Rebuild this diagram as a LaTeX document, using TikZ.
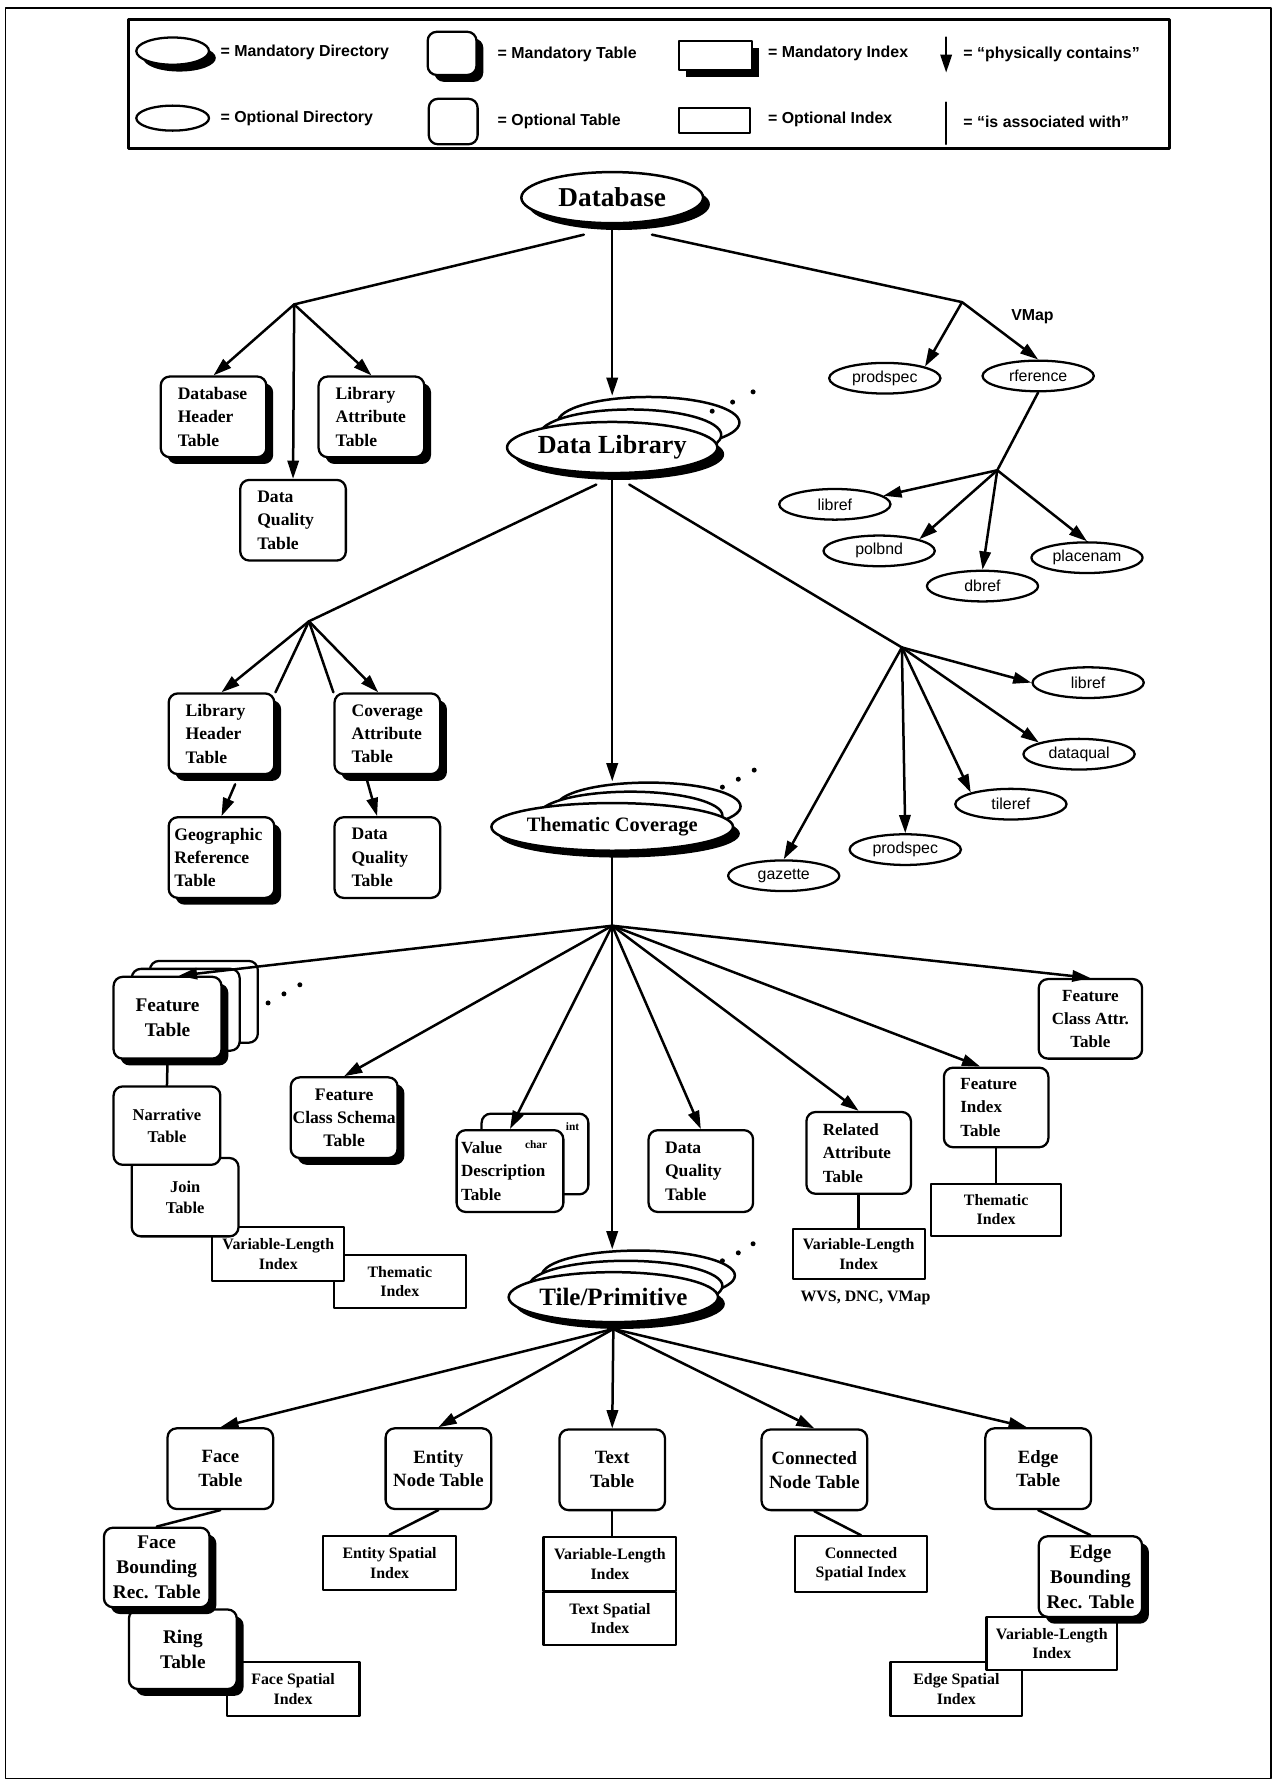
\documentclass[tikz,border=0pt]{standalone}
\usepackage{fontspec}
\setmainfont{Liberation Serif}
\newfontfamily\lsans{Liberation Sans}
\usetikzlibrary{shapes.geometric,shadows,arrows.meta}

\begin{document}
\begin{tikzpicture}[x=1pt,y=-1pt,line join=round,line cap=round,
    >={Triangle[length=16pt,width=10pt]},
    con/.style={line width=2.2pt},
    shad/.style={drop shadow={shadow xshift=6pt,shadow yshift=-6pt,fill=black,opacity=1}},
    tbl/.style={draw,fill=white,rounded corners=8pt,line width=2pt,inner sep=0pt,
      minimum width=93pt,minimum height=71pt,align=center,
      font=\fontsize{15.5}{20.5}\selectfont\bfseries},
    mtbl/.style={tbl,shad},
    lt/.style={align=left,text width=#1},lt/.default=63pt,
    idx/.style={draw,fill=white,line width=1.8pt,inner sep=0pt,minimum width=116pt,
      minimum height=47pt,align=center,font=\fontsize{14}{17}\selectfont\bfseries},
    midx/.style={idx,shad},
    dirn/.style={ellipse,draw,fill=white,line width=2pt,inner sep=0pt,minimum width=98pt,
      minimum height=27pt,font=\lsans\fontsize{14}{16}\selectfont},
    bigdir/.style={ellipse,draw,fill=white,line width=2.2pt,inner sep=0pt,minimum width=160pt,
      minimum height=45pt,font=\fontsize{23}{26}\selectfont\bfseries},
    lgtext/.style={anchor=west,inner sep=0pt,font=\lsans\bfseries\fontsize{14}{16}\selectfont}]
  \useasboundingbox (0,0) rectangle (1123,1568);
  \draw[line width=1.2pt] (5,7) rectangle (1119,1566);

  % legend
  \draw[line width=2.6pt] (113,17) rectangle (1030,131);
  \node[dirn,minimum width=64pt,minimum height=24pt,shad] (kmdir) at (152,45) {};
  \node[lgtext] (kmdirt) at (194,46) {= Mandatory Directory};
  \node[mtbl,minimum width=43pt,minimum height=38pt] (kmtab) at (398,47) {};
  \node[lgtext] (kmtabt) at (438,48) {= Mandatory Table};
  \node[midx,minimum width=64pt,minimum height=25pt] (kmidx) at (630,49) {};
  \node[lgtext] (kmidxt) at (676,47) {= Mandatory Index};
  \node[lgtext] (kcont) at (848,48) {= “physically contains”};
  \node[dirn,minimum width=64pt,minimum height=22pt] (kodir) at (152,104) {};
  \node[lgtext] (kodirt) at (194,104) {= Optional Directory};
  \node[tbl,minimum width=43pt,minimum height=40pt] (kotab) at (399,107) {};
  \node[lgtext] (kotabt) at (438,107) {= Optional Table};
  \node[idx,minimum width=62pt,minimum height=22pt] (koidx) at (629,106) {};
  \node[lgtext] (koidxt) at (676,105) {= Optional Index};
  \node[lgtext] (kasso) at (848,107) {= “is associated with”};
  \path (833,33) coordinate (karr1) (833,64) coordinate (karr2)
        (833,90) coordinate (klin1) (833,127) coordinate (klin2);
  \draw[con,->] (karr1) -- (karr2);
  \draw[line width=1.4pt] (klin1) -- (klin2);

  % database level
  \node[bigdir,shad,font=\fontsize{24}{26}\selectfont\bfseries] (db) at (539,174) {Database};
  \path (259,268) coordinate (cDbL) (847,266) coordinate (cDbR) (878,414) coordinate (cRef);
  \node[mtbl,lt] (dht) at (188,367) {Database\\Header\\Table};
  \node[mtbl,lt] (lat) at (327,367) {Library\\Attribute\\Table};
  \node[tbl,lt] (dqt1) at (258,458) {Data\\Quality\\Table};
  \node[dirn] (pspec1) at (779,333) {prodspec};
  \node[dirn] (rfer) at (914,331) {rference};
  \node[font=\lsans\bfseries\fontsize{14}{16}\selectfont] (vmap) at (909,279) {VMap};
  \node[dirn] (libref1) at (735,444) {libref};
  \node[dirn] (polbnd) at (774,485) {polbnd};
  \node[dirn] (dbref) at (865,516) {dbref};
  \node[dirn] (placenam) at (957,491) {placenam};

  % library level
  \node[bigdir] (dlb1) at (571,372) {};
  \node[bigdir] (dlb2) at (555,383) {};
  \node[bigdir,shad] (dl) at (539,394) {Data Library};
  \foreach \x/\y in {627/362,645/354,663/345} \fill (\x,\y) circle (2.2);
  \path (272,547) coordinate (cDlL) (794,570) coordinate (cDlR);
  \node[mtbl,lt] (lht) at (195,646) {Library\\Header\\Table};
  \node[mtbl,lt] (cat) at (341,646) {Coverage\\Attribute\\Table};
  \node[mtbl,lt=83pt] (grt) at (195,755) {Geographic\\Reference\\Table};
  \node[tbl,lt] (dqt2) at (341,755) {Data\\Quality\\Table};
  \node[dirn] (libref2) at (958,601) {libref};
  \node[dirn] (dataqual) at (950,664) {dataqual};
  \node[dirn] (tileref) at (890,708) {tileref};
  \node[dirn] (pspec2) at (797,748) {prodspec};
  \node[dirn] (gazette) at (690,771) {gazette};

  % coverage level
  \node[bigdir,minimum width=162pt,minimum height=42pt] (tcb1) at (571,710) {};
  \node[bigdir,minimum width=162pt,minimum height=42pt] (tcb2) at (555,718) {};
  \node[bigdir,shad,minimum width=162pt,minimum height=42pt,
    font=\fontsize{18}{20}\selectfont\bfseries] (tc) at (539,728) {Thematic Coverage};
  \foreach \x/\y in {636/693,650/686,664/678} \fill (\x,\y) circle (2.2);
  \coordinate (cTc) at (539,815);
  \node[tbl,minimum width=95pt,minimum height=72pt] (ftb1) at (179.5,882) {};
  \node[tbl,minimum width=95pt,minimum height=72pt] (ftb2) at (163.5,889) {};
  \node[mtbl,minimum width=95pt,minimum height=72pt,font=\fontsize{17}{21.5}\selectfont\bfseries]
    (ft) at (147.5,896) {Feature\\Table};
  \foreach \x/\y in {236/883,250/875,264/867} \fill (\x,\y) circle (2.2);
  \node[idx] (ti1) at (352,1128) {Thematic\\Index};
  \node[idx] (vli1) at (245,1104) {Variable-Length\\Index};
  \node[tbl,minimum width=94pt,minimum height=69pt,font=\fontsize{14.5}{19}\selectfont\bfseries]
    (join) at (163,1054) {Join\\Table};
  \node[tbl,minimum width=94pt,minimum height=69pt,font=\fontsize{14.5}{19}\selectfont\bfseries]
    (nar) at (147,991) {Narrative\\Table};
  \node[mtbl,minimum width=94pt] (fcst) at (303,984) {Feature\\Class Schema\\Table};
  \node[tbl,minimum width=94pt] (vdtb) at (471,1016) {};
  \node[tbl,lt=86pt,minimum width=94pt,minimum height=72pt,
    font=\fontsize{15}{20.5}\selectfont\bfseries] (vdt) at (449,1031) {Value\\Description\\Table};
  \node[font=\fontsize{10}{11}\selectfont\bfseries] (vchar) at (472,1008) {char};
  \node[font=\fontsize{10}{11}\selectfont\bfseries] (vint) at (504,992) {int};
  \node[tbl,lt,minimum width=92pt,minimum height=72pt] (dqt3) at (617,1031) {Data\\Quality\\Table};
  \node[tbl,lt,minimum width=92pt,minimum height=72pt,
    font=\fontsize{15}{20.5}\selectfont\bfseries] (rat) at (756,1015) {Related\\Attribute\\Table};
  \node[idx,minimum height=44pt] (vli2) at (756,1104) {Variable-Length\\Index};
  \node[font=\fontsize{14}{16}\selectfont\bfseries] (wvs) at (762,1143) {WVS, DNC, VMap};
  \node[tbl,lt,minimum width=92pt,minimum height=70pt,
    font=\fontsize{15}{20.5}\selectfont\bfseries] (fit) at (877,975) {Feature\\Index\\Table};
  \node[idx,minimum width=114pt,minimum height=46pt] (ti2) at (877,1065) {Thematic\\Index};
  \node[tbl,minimum width=91pt,minimum height=70pt,
    font=\fontsize{15}{20.5}\selectfont\bfseries] (fcat) at (960,897) {Feature\\Class Attr.\\Table};

  % tile level
  \node[bigdir,minimum width=170pt,minimum height=44pt] (tpb1) at (562,1123) {};
  \node[bigdir,minimum width=170pt,minimum height=44pt] (tpb2) at (551,1132) {};
  \node[bigdir,shad,minimum width=170pt,minimum height=44pt,
    font=\fontsize{22}{24}\selectfont\bfseries] (tp) at (540,1142) {Tile/Primitive};
  \foreach \x/\y in {636/1110,650/1103,663/1095} \fill (\x,\y) circle (2.2);
  \coordinate (cTp) at (540,1170);
  \tikzset{ptbl/.style={tbl,font=\fontsize{16.5}{21}\selectfont\bfseries},
    pmtbl/.style={mtbl,font=\fontsize{17}{22}\selectfont\bfseries}}
  \node[ptbl] (face) at (194,1293) {Face\\Table};
  \node[idx,minimum width=117pt,minimum height=48pt] (fsi) at (258,1487) {Face Spatial\\Index};
  \node[pmtbl,minimum width=95pt,minimum height=70pt] (ring) at (161,1452) {Ring\\Table};
  \node[pmtbl,minimum height=70pt] (fbrt) at (138,1380) {Face\\Bounding\\Rec. Table};
  \node[ptbl] (ent) at (386,1293) {Entity\\Node Table};
  \node[idx,minimum width=117pt,minimum height=48pt] (esi) at (343,1376) {Entity Spatial\\Index};
  \node[ptbl] (tt) at (539,1294) {Text\\Table};
  \node[idx,minimum width=117pt] (tvli) at (537,1377) {Variable-Length\\Index};
  \node[idx,minimum width=117pt] (tsi) at (537,1425) {Text Spatial\\Index};
  \node[ptbl] (cnt) at (717,1294) {Connected\\Node Table};
  \node[idx,minimum height=49pt] (csi) at (758,1377) {Connected\\Spatial Index};
  \node[ptbl] (et) at (914,1293) {Edge\\Table};
  \node[idx,minimum height=48pt] (edsi) at (842,1487) {Edge Spatial\\Index};
  \node[idx,minimum width=115pt] (evli) at (926,1447) {Variable-Length\\Index};
  \node[pmtbl,minimum width=91pt] (ebrt) at (960,1388) {Edge\\Bounding\\Rec. Table};

  % connectors
  \draw[con] ([xshift=-25pt,yshift=-9pt]db.south) -- (cDbL);
  \draw[con,->] (cDbL) -- (dht.north);
  \draw[con,->] (cDbL) -- (dqt1.north);
  \draw[con,->] (cDbL) -- (lat.north);
  \draw[con,->] (db.south) -- (db.south |- dlb1.north);
  \draw[con] ([xshift=35pt,yshift=-9pt]db.south) -- (cDbR);
  \draw[con,->] (cDbR) -- (pspec1.north east);
  \draw[con,->] (cDbR) -- (rfer.north);
  \draw[con] (rfer.south) -- (cRef);
  \draw[con,->] (cRef) -- (libref1.10);
  \draw[con,->] (cRef) -- (polbnd.north east);
  \draw[con,->] (cRef) -- (dbref.north);
  \draw[con,->] (cRef) -- (placenam.north);
  \draw[con] ([xshift=-14pt,yshift=-9pt]dl.south) -- (cDlL);
  \draw[con,->] (cDlL) -- (lht.north);
  \draw[con] (cDlL) -- (lht.north east);
  \draw[con] (cDlL) -- (cat.north west);
  \draw[con,->] (cDlL) -- ([xshift=-8pt]cat.north);
  \draw[con,->] ([xshift=12pt,yshift=-8pt]lht.south) -- (grt.north);
  \draw[con,->] ([xshift=-18pt,yshift=-4pt]cat.south) -- ([xshift=-9pt]dqt2.north);
  \draw[con,->] (dl.south) -- (dl.south |- tcb1.north);
  \draw[con] ([xshift=15pt,yshift=-9pt]dl.south) -- (cDlR);
  \draw[con,->] (cDlR) -- (libref2.west);
  \draw[con,->] (cDlR) -- (dataqual.north west);
  \draw[con,->] (cDlR) -- (tileref.north west);
  \draw[con,->] (cDlR) -- (pspec2.north);
  \draw[con,->] (cDlR) -- (gazette.north);
  \draw[con] (tc.south) -- (cTc);
  \draw[con,->] (cTc) -- ([xshift=10pt]ft.north);
  \draw[con,->] (cTc) -- (fcst.north);
  \draw[con,->] (cTc) -- (vdt.north);
  \draw[con,->] (cTc) -- (cTc |- tpb1.north);
  \draw[con,->] (cTc) -- (dqt3.north);
  \draw[con,->] (cTc) -- (rat.north);
  \draw[con,->] (cTc) -- ([xshift=-14pt]fit.north);
  \draw[con,->] (cTc) -- (fcat.north);
  \draw[con] (ft.south) -- (nar.north);
  \draw[con] (rat.south) -- (vli2.north);
  \draw[con] (fit.south) -- (ti2.north);
  \draw[con,->] (cTp) -- (face.north);
  \draw[con,->] (cTp) -- (ent.north);
  \draw[con,->] (cTp) -- (tt.north);
  \draw[con,->] (cTp) -- (cnt.north);
  \draw[con,->] (cTp) -- ([xshift=-10pt]et.north);
  \draw[con] (face.south) -- (fbrt.north);
  \draw[con] (ent.south) -- (esi.north);
  \draw[con] (tt.south) -- (tt.south |- tvli.north);
  \draw[con] (cnt.south) -- (csi.north);
  \draw[con] (et.south) -- (ebrt.north);
\end{tikzpicture}
\end{document}
